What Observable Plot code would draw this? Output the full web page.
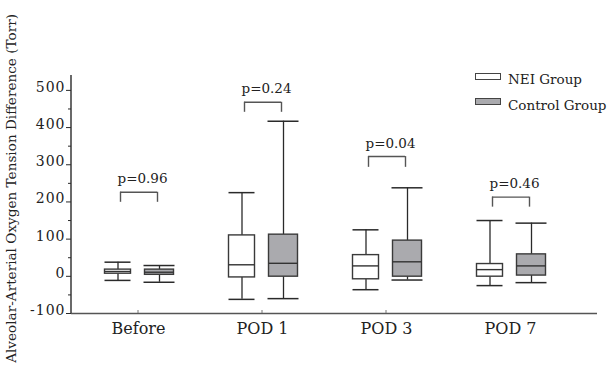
<!DOCTYPE html>
<html><head><meta charset="utf-8">
<script src="https://cdn.jsdelivr.net/npm/d3@7"></script>
<script src="https://cdn.jsdelivr.net/npm/@observablehq/plot@0.6"></script>
<style>
body{margin:0;background:#fff;}
#wrap{position:relative;width:611px;height:365px;font-family:"DejaVu Serif",serif;}
.sw{position:absolute;width:24px;height:5px;border:1.3px solid #444;}
.lt{position:absolute;font-size:13.5px;line-height:16px;color:#222;white-space:nowrap;}
svg [aria-label="y-axis tick label"] text{letter-spacing:1px}
</style></head><body><div id="wrap"></div>
<script>
const categories = ["Before", "POD 1", "POD 3", "POD 7"];
const groups = ["NEI Group", "Control Group"];
const neiMin = [-11, -62, -36, -25];
const neiQ1  = [7, -3, -8, -1];
const neiMed = [13, 31, 28, 18];
const neiQ3  = [18, 110, 57, 33];
const neiMax = [38, 225, 125, 150];
const ctlMin = [-16, -60, -10, -17];
const ctlQ1  = [4, -1, -1, 2];
const ctlMed = [11, 35, 39, 28];
const ctlQ3  = [18, 112, 96, 59];
const ctlMax = [29, 417, 238, 143];
const pLabels = ["p=0.96", "p=0.24", "p=0.04", "p=0.46"];
const bracketTop = [226, 468, 322, 213];
const bracketBottom = [199, 441, 293, 186];
const yTicks = [-100, 0, 100, 200, 300, 400, 500];
const yMinorTicks = [-50, 50, 150, 250, 350, 450];
const yTitle = "Alveolar-Arterial Oxygen Tension Difference (Torr)";

const nei = categories.map((c, i) => ({category: c, group: groups[0], min: neiMin[i], q1: neiQ1[i], med: neiMed[i], q3: neiQ3[i], max: neiMax[i]}));
const ctl = categories.map((c, i) => ({category: c, group: groups[1], min: ctlMin[i], q1: ctlQ1[i], med: ctlMed[i], q3: ctlQ3[i], max: ctlMax[i]}));
const brackets = categories.map((c, i) => ({category: c, top: bracketTop[i], bottom: bracketBottom[i], label: pLabels[i]}));

const X0 = 76, X1 = 572, BW = (X1 - X0) / categories.length;
const INK = "#2a2a2a";

function boxMarks(data, off, half, capHalf, fill) {
  const il = BW / 2 + off - half, ir = BW / 2 - off - half;
  const cl = BW / 2 + off - capHalf, cr = BW / 2 - off - capHalf;
  return [
    Plot.ruleX(data, {x: "category", y1: "min", y2: "q1", dx: off, stroke: INK, strokeWidth: 1.3}),
    Plot.ruleX(data, {x: "category", y1: "q3", y2: "max", dx: off, stroke: INK, strokeWidth: 1.3}),
    Plot.tickY(data, {x: "category", y: "min", insetLeft: cl, insetRight: cr, stroke: INK, strokeWidth: 1.5}),
    Plot.tickY(data, {x: "category", y: "max", insetLeft: cl, insetRight: cr, stroke: INK, strokeWidth: 1.5}),
    Plot.barY(data, {x: "category", y1: "q1", y2: "q3", insetLeft: il, insetRight: ir, fill, stroke: "#3a3a3a", strokeWidth: 1.4}),
    Plot.tickY(data, {x: "category", y: "med", insetLeft: il, insetRight: ir, stroke: "#333", strokeWidth: 1.4})
  ];
}

const bl = -18, br = 19;
const chart = Plot.plot({
  width: 611, height: 365,
  marginLeft: 71, marginRight: 14, marginTop: 75, marginBottom: 52,
  style: {fontFamily: "DejaVu Serif, serif", color: "#222", background: "#fff"},
  x: {type: "band", domain: categories, range: [X0, X1], padding: 0},
  y: {domain: [-100, 540]},
  marks: [
    Plot.ruleY([-100], {stroke: "#555", strokeWidth: 1.3}),
    Plot.axisY({ticks: yTicks, tickSize: 5, text: null, stroke: INK, label: null}),
    Plot.axisY({ticks: yTicks, tickSize: 0, tickPadding: 6, fontSize: 14, dy: -3, tickFormat: d => String(d), label: null}),
    Plot.axisY({ticks: yMinorTicks, tickSize: 3, text: null, stroke: INK, label: null}),
    Plot.axisX({tickSize: 0, tickPadding: 9, fontSize: 16, label: null}),
    ...boxMarks(nei, -20.5, 13, 13, "#fff"),
    ...boxMarks(ctl, 21, 14.5, 15.5, "#aaaaae"),
    Plot.tickY(brackets, {x: "category", y: "top", insetLeft: BW / 2 + bl, insetRight: BW / 2 - br, stroke: "#555", strokeWidth: 1.4}),
    Plot.ruleX(brackets, {x: "category", y1: "bottom", y2: "top", dx: bl, stroke: "#555", strokeWidth: 1.4}),
    Plot.ruleX(brackets, {x: "category", y1: "bottom", y2: "top", dx: br, stroke: "#555", strokeWidth: 1.4}),
    Plot.text(brackets, {x: "category", y: "top", text: "label", dx: 4, dy: -9, lineAnchor: "bottom", fontSize: 13.5, fill: "#222"})
  ]
});

const wrap = document.getElementById("wrap");
wrap.appendChild(chart);

// axis line, band separators and rotated title
const svg = d3.select(chart);
const ys = chart.scale("y"), xs = chart.scale("x");
svg.append("line").attr("x1", 71).attr("x2", 71)
  .attr("y1", ys.apply(540)).attr("y2", ys.apply(-100))
  .attr("stroke", INK).attr("stroke-width", 1.4);
categories.slice(1).forEach(c => {
  const xe = xs.apply(c) - BW / 2;
  svg.append("line").attr("x1", xe).attr("x2", xe)
    .attr("y1", ys.apply(-100)).attr("y2", ys.apply(-100) - 3)
    .attr("stroke", "#777").attr("stroke-width", 1);
});
svg.append("text").attr("transform", "translate(16,14) rotate(-90)")
  .attr("text-anchor", "end").attr("font-size", 13.6).attr("fill", "#222")
  .text(yTitle);

// legend
const legendFill = ["#fff", "#aaaaae"];
groups.forEach((g, i) => {
  const sw = document.createElement("div");
  sw.className = "sw";
  sw.style.left = "475px"; sw.style.top = (73 + i * 25) + "px";
  sw.style.background = legendFill[i];
  wrap.appendChild(sw);
  const t = document.createElement("div");
  t.className = "lt";
  t.style.left = "508px"; t.style.top = (71.3 + i * 26) + "px";
  t.textContent = g;
  wrap.appendChild(t);
});
</script></body></html>
